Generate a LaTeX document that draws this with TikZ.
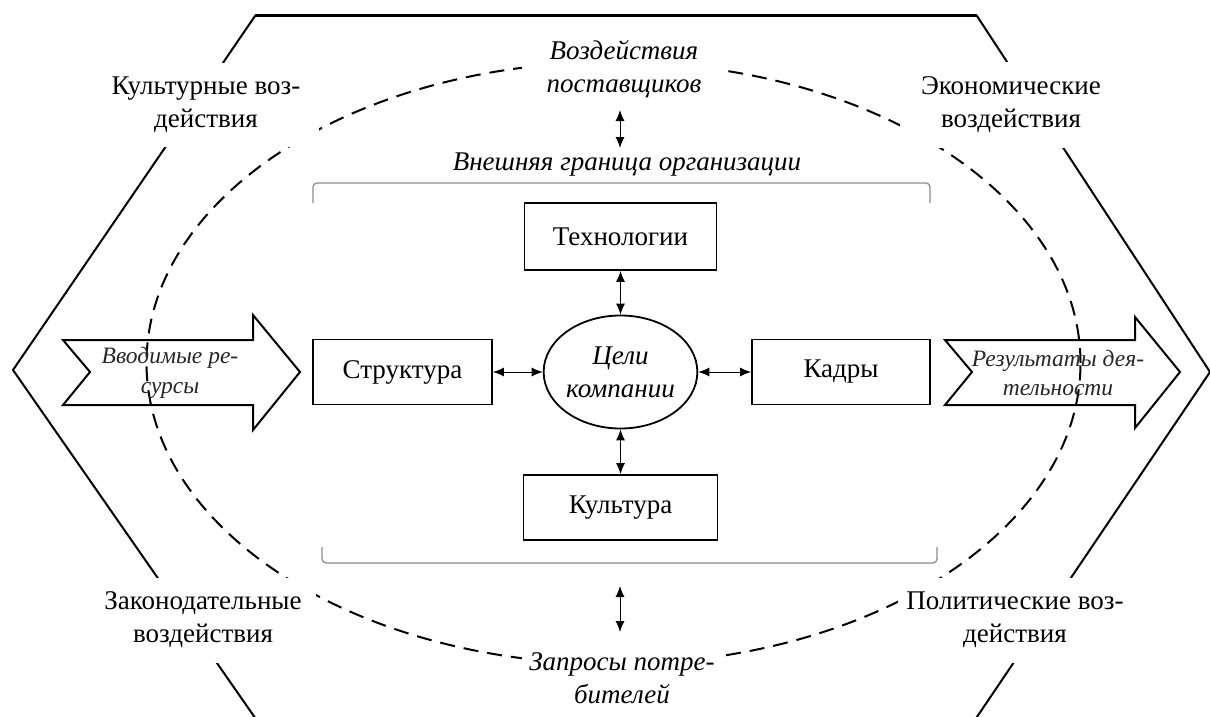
\documentclass[tikz,border=0pt]{standalone}
\usepackage{fontspec}
\setmainfont{Liberation Serif}
\usetikzlibrary{arrows.meta,shapes.geometric}
\begin{document}
\begin{tikzpicture}[x=1pt,y=-1pt,
  every node/.style={font=\fontsize{27}{33}\selectfont, align=center},
  lbl/.style={fill=white, inner sep=0pt},
  boxn/.style={draw, line width=1.8pt, inner sep=0pt},
  hexline/.style={line width=2pt, line join=miter},
  dashline/.style={line width=2pt, dash pattern=on 15pt off 9pt},
  dbl/.style={line width=1pt, {Latex[length=11pt,width=9pt]}-{Latex[length=11pt,width=9pt]}},
  brk/.style={draw=black!45, line width=1.3pt, rounded corners=4pt},
  bigarrow/.style={line width=2pt, line join=miter},
  ital/.style={font=\fontsize{27}{33}\selectfont\itshape},
  arrtxt/.style={font=\fontsize{23.5}{29.5}\selectfont\itshape, text=black!85}
]
\useasboundingbox (0,0) rectangle (1210,717);

% dashed environment ellipse
\draw[dashline] (613.5,363) ellipse [x radius=467pt, y radius=301pt];

% hexagon
\begin{scope}
  \clip (0,0) rectangle (1210,717);
  \draw[hexline] (274,745) -- (13,370) -- (255,16) -- (977,16) -- (1210,372) -- (958,745);
  \draw[line width=3pt] (255,16) -- (977,16);
\end{scope}

% outer labels
\node[lbl, minimum width=226pt, minimum height=84pt] (cult) at (206,105) {Культурные воз-\\действия};
\node[lbl, minimum width=222pt, minimum height=85pt] (econ) at (1011,105) {Экономические\\воздействия};
\node[lbl, minimum width=226pt, minimum height=85pt] (law) at (203,620) {Законодательные\\воздействия};
\node[lbl, minimum width=234pt, minimum height=85pt] (pol) at (1015,620) {Политические воз-\\действия};
\node[lbl, ital, minimum width=204pt, minimum height=70pt] (sup) at (624,69) {Воздействия\\поставщиков};
\node[lbl, ital, minimum width=200pt, minimum height=66pt] (cons) at (622,678) {Запросы потре-\\бителей};

% organisation border brackets
\draw[brk] (313,203) -- (313,183) -- (930,183) -- (930,203);
\draw[brk] (322,547) -- (322,563) -- (937,563) -- (937,547);
\node[ital] (bord) at (627,165) {Внешняя граница организации};

% supplier / consumer arrows
\coordinate (s1) at (620,110);
\coordinate (s2) at (620,148);
\coordinate (c1) at (620,586);
\coordinate (c2) at (620,632);
\draw[dbl] (s1) -- (s2);
\draw[dbl] (c1) -- (c2);

% internal elements
\node[boxn, minimum width=192pt, minimum height=67pt] (tech) at (620.5,236.5) {Технологии};
\node[boxn, minimum width=179pt, minimum height=65pt] (str) at (402.5,372) {Структура};
\node[boxn, minimum width=178pt, minimum height=65pt] (kad) at (841,372) {Кадры};
\node[boxn, minimum width=194pt, minimum height=65pt] (cul) at (620.5,507.5) {Культура};
\node[draw, ellipse, line width=1.8pt, minimum width=153pt, minimum height=113pt, inner sep=0pt, ital] (goal) at (620.5,372) {Цели\\компании};

\draw[dbl] (tech.south) -- (goal.north);
\draw[dbl] (goal.south) -- (cul.north);
\draw[dbl] (str.east) -- (goal.west);
\draw[dbl] (goal.east) -- (kad.west);

% input / output arrows
\draw[bigarrow] (63,340) -- (253,340) -- (253,315) -- (300,372) -- (253,430) -- (253,405) -- (63,405) -- (90,372) -- cycle;
\node[arrtxt] (inres) at (170,373) {Вводимые ре-\\сурсы};
\draw[bigarrow] (945,340) -- (1135,340) -- (1135,317) -- (1180,372) -- (1135,428) -- (1135,405) -- (945,405) -- (972,372) -- cycle;
\node[arrtxt] (outres) at (1058,373) {Результаты дея-\\тельности};
\end{tikzpicture}
\end{document}
